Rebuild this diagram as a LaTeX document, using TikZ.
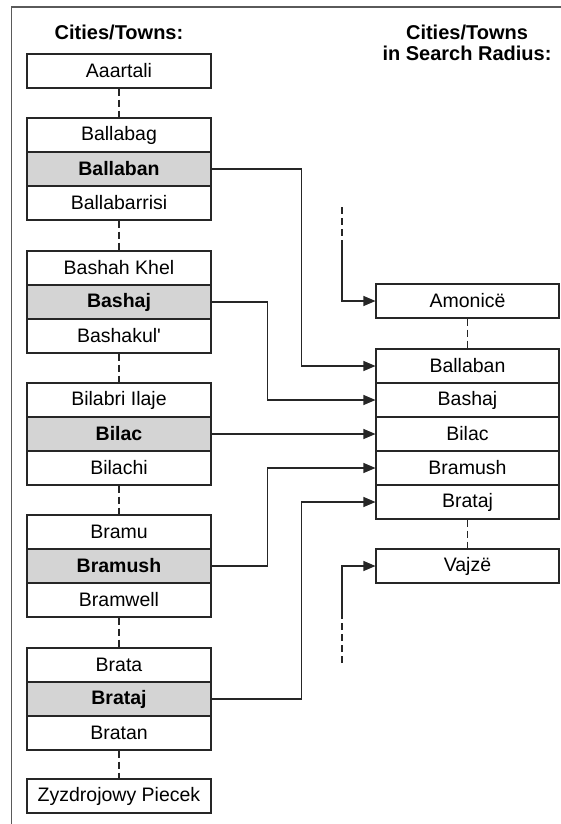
\documentclass[tikz,border=0pt]{standalone}
\usepackage{fontspec}
\setmainfont{Liberation Sans}
\usetikzlibrary{arrows.meta}
\definecolor{hl}{HTML}{D4D4D4}
\definecolor{frame}{HTML}{5A5A5A}
\tikzset{
  cell/.style={draw=black!85, line width=1.1pt, minimum width=184pt, minimum height=34pt, inner sep=0pt, font=\fontsize{19.5}{22}\selectfont, fill=white},
  hcell/.style={cell, fill=hl, font=\fontsize{19.5}{22}\selectfont\bfseries},
  dotted link/.style={draw=black!85, line width=1.1pt, dash pattern=on 7pt off 4pt},
  conn/.style={draw=black!85, line width=1.1pt, -{Triangle[length=12pt,width=10pt]}},
  title/.style={font=\fontsize{20}{21}\selectfont\bfseries, align=center, inner sep=0pt}
}
\begin{document}
\begin{tikzpicture}[x=1pt,y=-1pt]
\useasboundingbox (0,0) rectangle (561,824);
% frame
\draw[frame, line width=1.4pt] (11.5,824) -- (11.5,7) -- (561,7);
% titles
\node[title] (tl) at (119,32) {Cities/Towns:};
\node[title] (tr) at (467,43) {Cities/Towns\\in Search Radius:};
% left column
\node[cell] (lA) at (119,71) {Aaartali};
\node[cell] (l1a) at (119,135) {Ballabag};
\node[hcell] (l1b) at (119,169) {Ballaban};
\node[cell] (l1c) at (119,203) {Ballabarrisi};
\node[cell] (l2a) at (119,268) {Bashah Khel};
\node[hcell] (l2b) at (119,302) {Bashaj};
\node[cell] (l2c) at (119,336) {Bashakul\textquotesingle};
\node[cell] (l3a) at (119,400) {Bilabri Ilaje};
\node[hcell] (l3b) at (119,434) {Bilac};
\node[cell] (l3c) at (119,468) {Bilachi};
\node[cell] (l4a) at (119,532) {Bramu};
\node[hcell] (l4b) at (119,566) {Bramush};
\node[cell] (l4c) at (119,600) {Bramwell};
\node[cell] (l5a) at (119,665) {Brata};
\node[hcell] (l5b) at (119,699) {Brataj};
\node[cell] (l5c) at (119,733) {Bratan};
\node[cell] (lZ) at (119,796) {Zyzdrojowy Piecek};
% left dashed links
\draw[dotted link] (lA.south) -- (l1a.north);
\draw[dotted link] (l1c.south) -- (l2a.north);
\draw[dotted link] (l2c.south) -- (l3a.north);
\draw[dotted link] (l3c.south) -- (l4a.north);
\draw[dotted link] (l4c.south) -- (l5a.north);
\draw[dotted link] (l5c.south) -- (lZ.north);
% right column
\node[cell, minimum width=183pt] (rA) at (467.5,301) {Amonicë};
\node[cell, minimum width=183pt] (r1) at (467.5,366) {Ballaban};
\node[cell, minimum width=183pt] (r2) at (467.5,400) {Bashaj};
\node[cell, minimum width=183pt] (r3) at (467.5,434) {Bilac};
\node[cell, minimum width=183pt] (r4) at (467.5,468) {Bramush};
\node[cell, minimum width=183pt] (r5) at (467.5,502) {Brataj};
\node[cell, minimum width=183pt] (rV) at (467.5,566) {Vajzë};
\draw[dotted link] (rA.south) -- (r1.north);
\draw[dotted link] (r5.south) -- (rV.north);
% incoming open ends
\coordinate (t0) at (342,207);
\coordinate (t1) at (342,247);
\coordinate (b0) at (342,663);
\coordinate (b1) at (342,617);
\draw[dotted link] (t0) -- (t1);
\draw[conn] (t1) |- (rA.west);
\draw[dotted link] (b0) -- (b1);
\draw[conn] (b1) |- (rV.west);
% connectors
\draw[conn] (l1b.east) -- ++(90,0) |- (r1.west);
\draw[conn] (l2b.east) -- ++(56,0) |- (r2.west);
\draw[conn] (l3b.east) -- (r3.west);
\draw[conn] (l4b.east) -- ++(56,0) |- (r4.west);
\draw[conn] (l5b.east) -- ++(90,0) |- (r5.west);
\end{tikzpicture}
\end{document}
